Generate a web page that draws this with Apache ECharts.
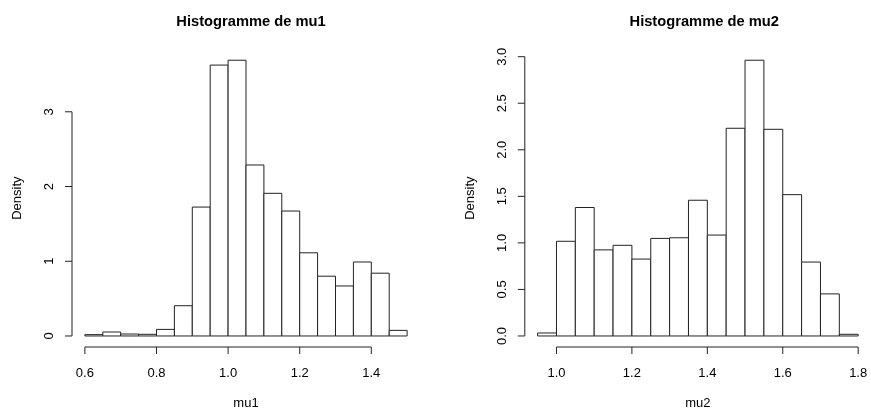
<!DOCTYPE html>
<html>
<head>
<meta charset="utf-8">
<script src="https://cdn.jsdelivr.net/npm/echarts@6/dist/echarts.min.js"></script>
<style>html,body{margin:0;padding:0;background:#fff}#c{width:871px;height:415px}</style>
</head>
<body>
<div id="c"></div>
<script>
// ---- data ----
var mu1Breaks = [0.60,0.65,0.70,0.75,0.80,0.85,0.90,0.95,1.00,1.05,1.10,1.15,1.20,1.25,1.30,1.35,1.40,1.45,1.50];
var mu1Density = [0.018,0.053,0.026,0.022,0.088,0.405,1.725,3.625,3.69,2.288,1.909,1.672,1.113,0.80,0.669,0.99,0.84,0.075];
var mu2Breaks = [0.95,1.00,1.05,1.10,1.15,1.20,1.25,1.30,1.35,1.40,1.45,1.50,1.55,1.60,1.65,1.70,1.75,1.80];
var mu2Density = [0.032,1.017,1.38,0.925,0.974,0.826,1.048,1.055,1.458,1.084,2.231,2.962,2.22,1.518,0.794,0.452,0.018];
var mu1XTicks = [0.6,0.8,1.0,1.2,1.4];
var mu1YTicks = [0,1,2,3];
var mu2XTicks = [1.0,1.2,1.4,1.6,1.8];
var mu2YTicks = [0,0.5,1.0,1.5,2.0,2.5,3.0];
var titles = ['Histogramme de mu1','Histogramme de mu2'];
var xNames = ['mu1','mu2'];

// ---- layout ----
var W = 871, H = 415;
var plotTop = 49.2, plotBottom = 351.7;
var plotLeft = [72, 524.8];
var plotRight = [420, 873.6];
var FONT = 'Liberation Sans, Arial, Helvetica, sans-serif';
var LINE = '#222';
var TICK = 7;

function binsOf(breaks, dens){
  var out = [];
  for (var i = 0; i < dens.length; i++) out.push([breaks[i], breaks[i+1], dens[i]]);
  return out;
}
function ext(lo, hi){ var d = (hi - lo) * 0.04; return [lo - d, hi + d]; }

var panels = [
  {breaks: mu1Breaks, dens: mu1Density, xt: mu1XTicks, yt: mu1YTicks, xd: 1, yd: 0},
  {breaks: mu2Breaks, dens: mu2Density, xt: mu2XTicks, yt: mu2YTicks, xd: 1, yd: 1}
];

var option = {
  animation: false,
  backgroundColor: '#fff',
  title: [], grid: [], xAxis: [], yAxis: [], series: []
};

panels.forEach(function(p, k){
  var xr = ext(p.breaks[0], p.breaks[p.breaks.length-1]);
  var ymax = Math.max.apply(null, p.dens);
  var yr = ext(0, ymax);
  option.title.push({
    text: titles[k],
    left: (plotLeft[k] + plotRight[k]) / 2,
    top: 9,
    textAlign: 'center',
    textStyle: {fontFamily: FONT, fontSize: 14.7, fontWeight: 'bold', color: '#000'}
  });
  option.grid.push({
    left: plotLeft[k], right: W - plotRight[k], top: plotTop, bottom: H - plotBottom,
    containLabel: false, show: false
  });
  option.xAxis.push({
    type: 'value', gridIndex: k, min: xr[0], max: xr[1],
    axisLine: {show: false},
    splitLine: {show: false},
    axisTick: {show: false},
    axisLabel: {show: true, customValues: p.xt, margin: 20, fontFamily: FONT, fontSize: 13, color: '#000',
      formatter: function(v){ return Number(v).toFixed(p.xd); }},
    name: xNames[k], nameLocation: 'middle', nameGap: 50,
    nameTextStyle: {fontFamily: FONT, fontSize: 13, color: '#000'}
  });
  option.yAxis.push({
    type: 'value', gridIndex: k, min: yr[0], max: yr[1],
    axisLine: {show: false},
    splitLine: {show: false},
    axisTick: {show: false},
    axisLabel: {show: true, customValues: p.yt, margin: 16, rotate: 90, fontFamily: FONT, fontSize: 13, color: '#000',
      formatter: function(v){ return Number(v).toFixed(p.yd); }},
    name: 'Density', nameLocation: 'middle', nameGap: 48, nameRotate: 90,
    nameTextStyle: {fontFamily: FONT, fontSize: 13, color: '#000'}
  });
  // histogram bars
  option.series.push({
    type: 'custom', xAxisIndex: k, yAxisIndex: k,
    data: binsOf(p.breaks, p.dens),
    clip: false,
    renderItem: function(params, api){
      var a = api.coord([api.value(0), api.value(2)]);
      var b = api.coord([api.value(1), 0]);
      return {type: 'rect', shape: {x: a[0], y: a[1], width: b[0]-a[0], height: b[1]-a[1]},
        style: {fill: '#fff', stroke: LINE, lineWidth: 1}};
    }
  });
  // R-style axis lines spanning first..last tick, with outward ticks
  option.series.push({
    type: 'custom', xAxisIndex: k, yAxisIndex: k,
    data: [[0]], clip: false, silent: true,
    renderItem: function(params, api){
      var ch = [];
      var x0 = api.coord([p.xt[0], yr[0]]), x1 = api.coord([p.xt[p.xt.length-1], yr[0]]);
      var y0 = api.coord([xr[0], p.yt[0]]), y1 = api.coord([xr[0], p.yt[p.yt.length-1]]);
      ch.push({type: 'line', shape: {x1: x0[0], y1: x0[1], x2: x1[0], y2: x1[1]}, style: {stroke: LINE, lineWidth: 1}});
      ch.push({type: 'line', shape: {x1: y0[0], y1: y0[1], x2: y1[0], y2: y1[1]}, style: {stroke: LINE, lineWidth: 1}});
      p.xt.forEach(function(v){
        var c = api.coord([v, yr[0]]);
        ch.push({type: 'line', shape: {x1: c[0], y1: c[1], x2: c[0], y2: c[1] + TICK}, style: {stroke: LINE, lineWidth: 1}});
      });
      p.yt.forEach(function(v){
        var c = api.coord([xr[0], v]);
        ch.push({type: 'line', shape: {x1: c[0], y1: c[1], x2: c[0] - TICK, y2: c[1]}, style: {stroke: LINE, lineWidth: 1}});
      });
      return {type: 'group', children: ch};
    }
  });
});

var chart = echarts.init(document.getElementById('c'), null, {renderer: 'canvas'});
chart.setOption(option);
</script>
</body>
</html>
